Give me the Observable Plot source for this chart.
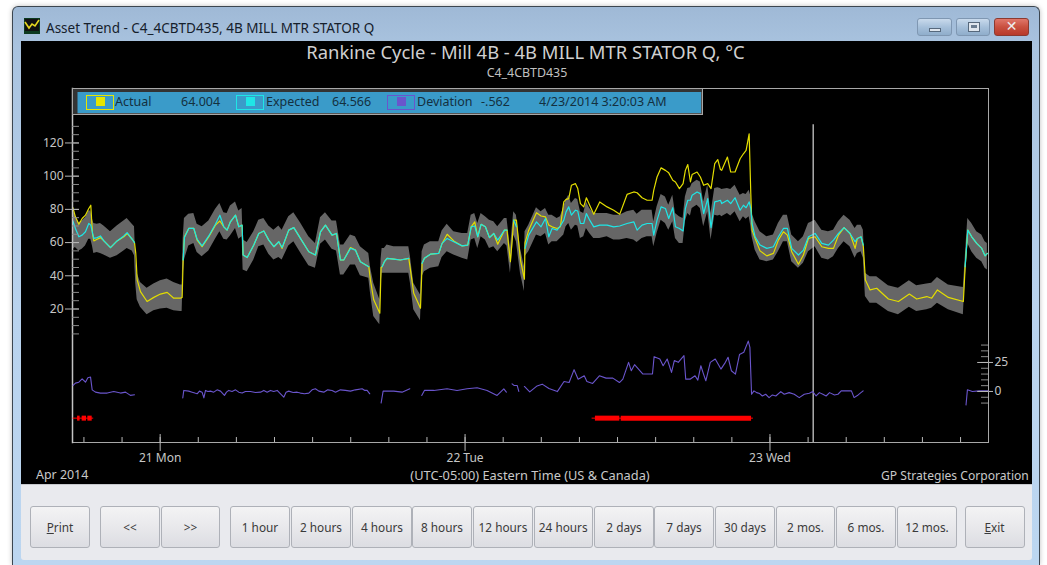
<!DOCTYPE html>
<html><head><meta charset="utf-8">
<script src="https://cdn.jsdelivr.net/npm/d3@7"></script>
<script src="https://cdn.jsdelivr.net/npm/@observablehq/plot@0.6"></script>
<style>
html,body{margin:0;padding:0;background:#fff;width:1047px;height:565px;overflow:hidden;font-family:"Noto Sans",sans-serif}
.abs{position:absolute;white-space:nowrap}
#win{left:12px;top:6px;width:1028px;height:559px;box-sizing:border-box;border:1px solid #3c4650;border-bottom:none;border-radius:6px 6px 0 0;background:linear-gradient(#9fb9d6 0,#a9c3df 40px,#b9d3ee 300px,#bcd6f0 100%);box-shadow:0 0 5px rgba(0,0,0,.25)}
#panel{left:20.5px;top:41px;width:1011px;height:443px;background:#000}
#btnbar{left:20.5px;top:484px;width:1011px;height:76px;background:#e9eaee;border-top:1px solid #c6c8cd;box-sizing:border-box;border-radius:0 0 3px 3px}
.btn{position:absolute;top:506px;height:42px;box-sizing:border-box;border:1px solid #aeb1b8;border-radius:3px;background:linear-gradient(#f3f3f4,#e9e9ec 48%,#dcdde2);color:#3a3a3a;font-size:11.8px;line-height:40px;text-align:center}
.ctl{position:absolute;top:18px;height:18px;box-sizing:border-box;border:1px solid #7f97b2;border-radius:3px;background:linear-gradient(#c9daec,#a6c0da 50%,#8fadcb)}
#legend{left:72px;top:88px;width:631px;height:26.5px;box-sizing:border-box;border:1.5px solid #a8a8a8;background:#3a9bc9;box-shadow:inset 4.5px 3px 0 #333,inset -1px -1px 0 #555}
.lt{position:absolute;top:94px;font-size:12.5px;line-height:15px;color:#14303f;white-space:nowrap}
.sw{position:absolute;top:95px;height:15px;box-sizing:border-box;border:1.5px solid}
.sq{position:absolute;top:97px;width:9px;height:9px}
.cap{position:absolute;color:#c9c9c9;white-space:nowrap}
#charts svg{position:absolute;left:0;top:0}
</style></head><body>
<div id="win" class="abs"></div>
<div id="panel" class="abs"></div>
<div id="btnbar" class="abs"></div>
<div id="charts"></div>
<div id="chrome"></div>
<div id="legend" class="abs"></div>
<div id="legendItems"></div>
<script>
// ---- texts ----
const windowTitle = "Asset Trend - C4_4CBTD435, 4B MILL MTR STATOR Q";
const chartTitle = "Rankine Cycle - Mill 4B - 4B MILL MTR STATOR Q, °C";
const chartSubtitle = "C4_4CBTD435";
const footerLeft = "Apr 2014";
const footerCenter = "(UTC-05:00) Eastern Time (US & Canada)";
const footerRight = "GP Strategies Corporation";
const buttonLabels = ["Print","<<",">>","1 hour","2 hours","4 hours","8 hours","12 hours","24 hours","2 days","7 days","30 days","2 mos.","6 mos.","12 mos.","Exit"];
const legendNames = ["Actual","Expected","Deviation"];
const legendValues = ["64.004","64.566","-.562"];
const legendStamp = "4/23/2014 3:20:03 AM";
const dayLabels = ["21 Mon","22 Tue","23 Wed"];
const dayHours = [0,24,48];
const cursorHour = 51.4;

// ---- series: hours since 21 Apr 2014 00:00, values in °C ----
const hours = [-6.87,-6.67,-6.4,-6.14,-5.88,-5.62,-5.46,-5.33,-5.22,-4.96,-4.7,-4.43,-3.91,-3.39,-2.86,-2.6,-2.2,-2.02,-1.92,-1.81,-1.55,-1.03,-0.5,0.02,0.55,1.07,1.6,1.73,1.81,1.91,2.25,2.65,2.91,3.3,3.83,4.35,4.7,5.01,5.27,5.53,5.93,6.19,6.45,6.53,6.85,7.37,7.76,8.16,8.55,8.95,9.34,9.6,10.12,10.52,11.04,11.7,12.22,12.62,13.01,13.53,13.88,14.19,14.45,14.98,15.37,15.76,16.42,16.55,16.81,17.29,17.39,17.47,17.65,17.86,18.39,18.91,19.57,19.7,19.96,20.49,20.62,20.8,21.27,21.93,22.19,22.59,23.11,23.77,24.21,24.48,24.76,25,25.26,25.6,25.92,26.26,26.57,27.1,27.3,27.57,27.83,28.04,28.36,28.67,28.72,29.01,29.62,29.98,30.33,30.59,30.85,31.24,31.5,31.77,31.95,32.16,32.37,32.69,32.87,33.08,33.34,33.55,33.81,34.13,34.6,35.18,35.7,36.17,36.75,37.28,37.54,37.93,38.33,38.72,38.85,39.11,39.43,39.77,40.03,40.35,40.56,40.87,41.16,41.34,41.53,41.74,41.87,42.26,42.52,42.78,43.1,43.36,43.65,43.89,44.1,44.2,44.65,44.91,45.25,45.65,45.91,46.12,46.36,46.49,46.59,46.83,47.22,47.75,48.27,48.66,49.06,49.37,49.71,50.24,50.63,51.03,51.55,52.08,52.6,53,53.39,53.83,54.3,54.7,54.88,55.17,55.35,55.51,55.88,56.4,57.32,58.11,58.97,59.55,60.34,60.73,61.18,62.04,63.22,63.36,63.57,63.88,64.27,64.67,64.93,65.11];
const actual = [81,75.5,71,74.5,76.5,80.5,82.5,65.5,61,62,63,61,57,61,63.5,65.5,62,60,53.5,37.5,30.5,24.5,27,29,30,26.5,26.5,27,49.5,63.5,68.5,68.5,61.5,57.5,63.5,70.5,73,69.5,67.5,72.5,76.5,69.5,70.5,52.5,51,58.5,65.5,67,61.5,57.5,60.5,56.5,67.5,69,62.5,54.5,52.5,66.5,70.5,64.5,65.5,49.5,49.5,57,55.5,48.5,45.5,37.5,25.5,17.5,45,45.5,48.5,50.5,50,49.5,50.5,43.5,29.5,20.5,47.5,50.5,53,53.5,59.5,65,61,58,58.5,69.5,72.5,63.5,71,69.5,63,65.5,59,67.5,67.5,48.5,73.5,73.5,49.5,38,60,67.5,78,76,75.5,70.5,69.5,68.5,69.5,84.5,86,86.5,94.5,95.5,92.5,83.5,81.5,87,82.5,77,84.5,81.5,79.5,77,89,90.5,90,87,85.5,85.5,91.5,99.5,105,103.5,102,97.5,96.5,92.5,95.5,103.5,107,96.5,101,102.5,99.5,94.5,95.5,92.5,107.5,110,104,103.5,111.5,102.5,102.5,110.5,113.5,115.5,125.5,89.5,67.5,62.5,55,52,53.5,61.5,66.5,64.5,54.5,47,52.5,62.5,63.5,57.5,56.5,56.5,64.5,69,65.5,56.5,62.5,63.5,57.5,37.5,31.5,32.5,26,24.5,29,26,27.5,26.5,31.5,27,24.5,45,67.5,63.5,59.5,56.5,52,53.5];
const expected = [73,68.5,63.5,64.5,66.5,71.5,70.5,66,62.5,63,64,61,57,61,64,66,62,60,null,null,null,null,null,null,null,null,null,null,49.5,63,68.5,68.5,62,58,64,71,76.5,69.5,67.5,72.5,76.5,69.5,70.5,52.5,51,58.5,65.5,67,61.5,57.5,60.5,57,67.5,69,62.5,54.5,52.5,66.5,70.5,64.5,65.5,49.5,49.5,56.5,55.5,48.5,45.5,null,null,null,null,45.5,48.5,50.5,50,49.5,50.5,null,null,null,47.5,50.5,53,53.5,59.5,62.5,60.5,58,58.5,69.5,70,63.5,71,69.5,63,65.5,61.5,67.5,67.5,null,73.5,69.5,null,null,56.5,64.5,72.5,69.5,74.5,63.5,68.5,67.5,70,73.5,78.5,81.5,76.5,79.5,79,71.5,71.5,77.5,73.5,69.5,70.5,70.5,69.5,70,71.5,72.5,67.5,70.5,71.5,71.5,64.5,73.5,81.5,80.5,74.5,81,69.5,68.5,67,80.5,85.5,85.5,88.5,90.5,89.5,77.5,86.5,69,84.5,85,85.5,83.5,85.5,83.5,87,79.5,82.5,81,84.5,80.5,71.5,63.5,58.5,56.5,57.5,63.5,68.5,68.5,56.5,52.5,55.5,63.5,65.5,59.5,58.5,61.5,65.5,69,65.5,60.5,62.5,63.5,58.5,null,null,null,null,null,null,null,null,null,null,null,null,45.5,67.5,63.5,59.5,56.5,52,53.5];
const bandHigh = [80,76,72,73,75,79,79,74,71.5,71,71.5,70,66.5,70,73,74.5,71,69.5,50,41.5,36,32.5,35,37,38,36,34.5,34.5,62,74.5,77,77.5,71,69.5,73,80,83.5,78,77.5,82,84.5,79,80.5,61.5,60,66.5,73.5,74.5,70,67.5,70,67.5,75.5,78,72,63.5,59.5,75,78,73,73,58.5,58.5,64.5,63.5,57.5,53.5,45.5,35.5,25.5,50,56.5,56.5,58.5,57.5,57.5,57.5,51.5,35.5,28.5,54.5,58.5,60.5,60.5,67,71,66.5,65.5,65.5,76.5,77.5,71.5,77.5,75.5,73.5,72.5,69.5,74.5,74.5,56.5,78.5,76.5,56.5,45.5,66.5,70.5,81,78.5,80.5,76.5,76.5,74.5,75.5,81.5,85.5,88.5,83.5,86.5,86,78.5,77.5,84.5,80.5,77.5,77.5,77.5,76.5,76.5,78.5,79.5,77,79.5,79.5,79.5,72.5,81.5,89,87.5,82.5,88.5,77.5,75.5,74.5,87.5,92.5,93,95.5,97.5,96.5,84.5,94.5,77.5,92.5,93,92.5,92,92.5,92,94.5,88.5,89.5,89,91.5,88,77.5,72.5,66.5,63.5,64.5,71.5,76.5,76.5,64.5,60.5,63.5,71.5,73.5,67.5,66.5,67.5,72.5,76.5,73.5,68.5,70.5,70.5,67.5,41.5,39.5,39.5,34,32.5,37,34,35,35.5,39,34.5,33,50,74.5,71.5,66.5,64.5,60.5,59.5];
const bandLow = [56,57,55,56,58,62,62,58,53.5,54,53.5,52.5,50.5,52,55,56.5,55,52,35,25.5,21,16.5,19,20,20.5,19,18.5,18.5,40,49.5,58,59.5,54,51.5,55,62,66.5,62,61.5,64,68.5,62,63.5,43.5,42.5,49.5,57.5,58.5,53,49.5,51,49.5,58,60.5,54,46,44.5,59,61.5,56,55,40.5,40.5,46.5,46.5,40,38.5,30,15.5,10.5,35,41.5,41.5,41.5,41.5,41.5,41.5,35.5,19.5,13,39.5,42.5,44.5,45.5,51,54.5,52.5,50.5,49.5,61.5,62.5,56.5,63.5,61.5,56.5,57.5,54.5,59.5,58,41.5,64.5,60.5,41.5,30.5,51.5,54.5,64.5,63.5,65.5,58.5,60.5,60.5,62.5,64.5,69.5,71.5,67.5,70.5,70,62.5,63.5,68.5,65.5,62.5,62.5,63.5,61.5,61.5,62.5,61.5,60,62.5,63.5,63.5,57.5,65.5,73.5,71.5,67.5,72.5,62.5,59.5,59.5,72.5,77.5,76,80.5,82.5,80.5,69.5,78.5,61.5,76.5,76,76.5,75.5,77.5,76,78.5,72.5,75.5,74,75.5,70,63.5,55.5,49.5,48.5,49.5,54.5,60.5,60.5,48.5,44.5,47.5,54.5,57.5,50.5,49.5,51.5,56.5,60.5,57.5,50.5,53.5,54.5,50.5,27.5,23.5,23.5,18.5,16.5,21,18.5,19.5,20.5,23.5,19.5,16.5,37.5,59.5,54.5,50.5,48.5,44.5,43.5];

// deviation trace, null marks the gaps
const devHours = [-6.85,-6.67,-6.4,-6.14,-5.88,-5.69,-5.48,-5.35,-5.09,-4.7,-4.17,-3.65,-3.12,-2.73,-2.34,-2.02,-2,
1.78,1.86,2.25,2.52,2.73,2.91,3.09,3.3,3.44,3.57,3.75,3.96,4.22,4.48,4.75,5.06,5.22,5.4,5.66,5.93,6.19,6.45,6.71,7.11,7.5,7.9,8.16,8.42,8.68,8.94,9.21,9.42,9.73,9.91,10.12,10.47,10.78,11.04,11.36,11.7,11.96,12.22,12.49,12.88,13.19,13.53,13.8,14.19,14.58,14.98,15.37,15.9,16.11,16.29,16.5,16.6,
17.39,17.55,18.39,19.04,19.65,19.7,
20.59,20.8,21.54,22.58,23.37,24.16,24.95,25.73,26.52,27.05,27.25,27.4,
27.7,27.85,28.1,28.23,28.3,
28.67,29.09,29.67,30.07,30.6,31.26,31.79,32.19,32.58,32.9,33.38,33.59,34.04,34.57,35.1,35.63,36.15,36.42,36.87,37.08,37.34,38,38.75,38.88,39.33,39.59,39.91,40.25,40.47,40.78,41.23,41.37,41.71,42.1,42.32,42.56,42.77,42.95,43.3,43.69,44.14,44.49,44.7,44.96,45.28,45.6,45.94,46.29,46.42,
46.55,46.74,46.95,47.19,47.4,47.66,47.93,48.19,48.46,48.85,49.12,49.51,49.91,50.3,50.7,51.1,51.37,51.63,51.89,52.16,52.42,52.69,53.08,53.35,53.61,53.88,54.41,54.62,54.94,55.33,55.4,
63.43,63.54,63.93,64.46,65.15];
const deviation = [5.2,7.2,8,10.9,8,11.8,12.4,1.4,-0.6,-1.4,-1.4,0,-1.4,-0.6,-3.4,-2.9,null,
-5.5,0.9,0.3,-0.6,-1.4,-2,0.3,-0.6,-5.5,0.9,0,0.3,-0.6,1.4,0.3,-3.4,-0.6,0.9,0,1.4,-0.6,-1.4,0,0,-0.9,-0.6,0.9,-0.6,0.9,0,0.9,-1.4,-4.9,-0.6,0.3,-0.9,-0.6,-1.4,-2,-1.4,1.4,2.3,0.3,-0.6,1.4,0.9,-0.6,1.4,0.9,0.3,1.4,2.3,0.9,0.9,-2,null,
-10,0.3,0.3,-0.6,2.3,null,
-3.4,0.9,0.9,2.3,0.9,2.3,3.2,0.9,-3.4,2.3,-0.6,null,
6.6,5.2,5.2,0,null,
4.3,-0.4,4.8,6.3,2.5,-0.1,8.6,7.7,18.8,10.6,13.5,8.6,6.9,13.5,11.5,11.5,7.7,10.6,25.1,17.9,23.1,15,15,30,28,22.2,28,16.4,26.6,25.1,30.9,10.6,10.6,13.5,9.8,22.2,15,9.2,25.1,28,19.3,25.1,29.5,17.9,15,31.8,33.8,43.4,38,
-2.4,0.5,-1,-1.8,-3.9,-2.4,-5.3,-3,-3.9,-0.1,-2.4,-1,-2.4,-5.3,-2.4,-1.5,-0.1,-3.9,-1,-2.4,-3.9,-1,-3,-2.4,0.5,0.5,0.5,-5.3,-3,0.5,null,
-11.7,1.4,0,0.5,0.5];

// alarm flag spans on the deviation strip: thin whisker spans and thick spans (hours)
const flagLevel = -23;
const whiskerStart = [-6.85,34.0];
const whiskerEnd = [-5.23,46.7];
const flagStart = [-6.5,-6.14,-5.69,34.26,36.29];
const flagEnd = [-6.3,-5.8,-5.35,36.18,46.55];

// ---- chart configuration ----
const valueMajor = [20,40,60,80,100,120];
const devMajor = [0,25];
const W = 1047, H = 565;
const M = {marginLeft:72, marginRight:59, marginTop:88, marginBottom:123};
const t = h => new Date(Date.UTC(2014,3,21) + h*3600e3);
const xOpt = {type:"utc", domain:[t(-6.9), t(65.2)]};
const axisColor = "#b8b8b8", textColor = "#c6c6c6";
const style = {background:"transparent", fontFamily:"'Noto Sans',sans-serif", fontSize:"12px", color:textColor, overflow:"visible"};
const threeHourly = d3.range(-6,66,3).map(t);

const rows = hours.map((h,i)=>({t:t(h), a:actual[i], e:expected[i], hi:bandHigh[i], lo:bandLow[i]}));
const devRows = devHours.map((h,i)=>({t:t(h), d:deviation[i]}));

const main = Plot.plot({
  width:W, height:H, ...M, style,
  x:xOpt,
  y:{domain:[-60.4,152.8]},
  marks:[
    Plot.areaY(rows,{x:"t",y1:"lo",y2:"hi",fill:"#666"}),
    Plot.lineY(rows,{x:"t",y:"a",stroke:"#e3dd00",strokeWidth:1.2}),
    Plot.lineY(rows,{x:"t",y:"e",stroke:"#1fe6e6",strokeWidth:1.2}),
    Plot.ruleX([t(cursorHour)],{y1:-60.4,y2:131,stroke:"#d8d8d8",strokeWidth:1.2}),
    Plot.frame({stroke:"#a8a8a8"}),
    Plot.frame({anchor:"left",stroke:"#c4c4c4",strokeWidth:1.5}),
    Plot.ruleX(threeHourly,{y1:-60.4,y2:-57.4,stroke:axisColor}),
    Plot.ruleX(dayHours.map(t),{y1:-60.4,y2:-55.6,stroke:axisColor}),
    Plot.axisX({ticks:dayHours.map(t),tickSize:9,tickPadding:2,stroke:axisColor,fill:textColor,fontSize:12,
      tickFormat:d=>dayLabels[dayHours.indexOf((d-t(0))/3600e3)],label:null}),
    Plot.ruleY(d3.range(5,131,5),{x1:t(-6.9),x2:t(-6.35),stroke:"#8c8c8c"}),
    Plot.ruleY(valueMajor,{x1:t(-6.9),x2:t(-6.35),stroke:axisColor}),
    Plot.axisY({ticks:valueMajor,tickSize:7,tickPadding:2,stroke:axisColor,fill:textColor,fontSize:12,label:null}),
  ]
});
const dev = Plot.plot({
  width:W, height:H, ...M, style,
  x:{...xOpt,axis:null},
  y:{domain:[-44,261.2],axis:null},
  marks:[
    Plot.lineY(devRows,{x:"t",y:"d",stroke:"#6a55cc",strokeWidth:1.1}),
    Plot.ruleY(whiskerStart.map((s,i)=>({s:t(s),e:t(whiskerEnd[i])})),{y:flagLevel,x1:"s",x2:"e",stroke:"#f00",strokeWidth:1}),
    Plot.ruleY(flagStart.map((s,i)=>({s:t(s),e:t(flagEnd[i])})),{y:flagLevel,x1:"s",x2:"e",stroke:"#f00",strokeWidth:5}),
    Plot.ruleY(d3.range(-10,41,5),{x1:t(64.65),x2:t(65.2),stroke:"#8c8c8c"}),
    Plot.ruleY(devMajor,{x1:t(64.35),x2:t(65.2),stroke:axisColor}),
    Plot.axisY({anchor:"right",ticks:devMajor,tickSize:4,tickPadding:2,stroke:axisColor,fill:textColor,fontSize:12,label:null}),
  ]
});
document.getElementById("charts").append(main,dev);

// ---- window chrome and captions ----
const chrome = document.getElementById("chrome");
const add = (parent,cls,css,html) => {const e=document.createElement("div");e.className=cls;e.style.cssText=css;if(html!=null)e.innerHTML=html;parent.appendChild(e);return e;};
const esc = s => s.replace(/&/g,"&amp;").replace(/</g,"&lt;").replace(/>/g,"&gt;");
add(chrome,"cap",`left:46px;top:19px;font-size:13.5px;line-height:18px;color:#15202b`,esc(windowTitle));
add(chrome,"cap",`left:0;width:1051px;text-align:center;top:40px;font-size:18.4px;line-height:24px;color:#d0d0d0`,esc(chartTitle));
add(chrome,"cap",`left:0;width:1054px;text-align:center;top:65px;font-size:12.4px;line-height:16px;color:#c0c0c0`,esc(chartSubtitle));
add(chrome,"cap",`left:36px;top:466px;font-size:12.4px;line-height:18px`,esc(footerLeft));
add(chrome,"cap",`left:0;width:1060px;text-align:center;top:466px;font-size:12.8px;line-height:18px`,esc(footerCenter));
add(chrome,"cap",`left:881px;top:467px;font-size:12.1px;line-height:18px`,esc(footerRight));
chrome.insertAdjacentHTML("beforeend",`<svg class="abs" style="left:24px;top:18px" width="16" height="16"><rect width="16" height="16" fill="#0d3a20"/><rect x="1" y="1" width="14" height="12" fill="#111"/><path d="M1 4 L5 10 L8 6 L11 8 L15 2" stroke="#e6d820" stroke-width="1.6" fill="none"/></svg>`);
// title-bar buttons
add(chrome,"ctl","left:917px;width:35px",`<div style="position:absolute;left:11px;top:9px;width:12px;height:4px;background:#dfe6ee;border:1px solid #56687c;box-sizing:border-box"></div>`);
add(chrome,"ctl","left:956px;width:34px",`<div style="position:absolute;left:11px;top:3px;width:12px;height:10px;background:#dfe6ee;border:1px solid #56687c;box-sizing:border-box"><div style="margin:2px;height:3px;background:#6a7c90"></div></div>`);
add(chrome,"ctl","left:994px;width:35px;background:linear-gradient(#e0776a,#c9503f 50%,#b83a2a);border-color:#8c3a30;color:#eee;font:bold 14px/15px 'DejaVu Sans';text-align:center","✕");
// buttons along the bottom
const bx = [30,100,161,230,291,352,412,473,533.5,594,654,715,776,836,897,964.5];
const bw = [60,60,59,60,60,60,60,60,59.5,60,60,60,59,60,60,60];
buttonLabels.forEach((l,i)=>{
  const txt = l==="Print" ? "<u>P</u>rint" : l==="Exit" ? "<u>E</u>xit" : esc(l);
  add(chrome,"btn",`left:${bx[i]}px;width:${bw[i]}px`,txt);
});
// legend strip
const li = document.getElementById("legendItems");
[[86,115,181],[236,266,332],[387,417,481]].forEach(([sw,nameX,valX],i)=>{
  const col = ["#e6e600","#1fe6e6","#6a55cc"][i];
  add(li,"sw",`left:${sw}px;width:28px;border-color:${col}`);
  add(li,"sq",`left:${sw+9.5}px;background:${col}`);
  add(li,"lt",`left:${nameX}px`,legendNames[i]);
  add(li,"lt",`left:${valX}px`,legendValues[i]);
});
add(li,"lt","left:539px",legendStamp);
</script>
</body></html>
